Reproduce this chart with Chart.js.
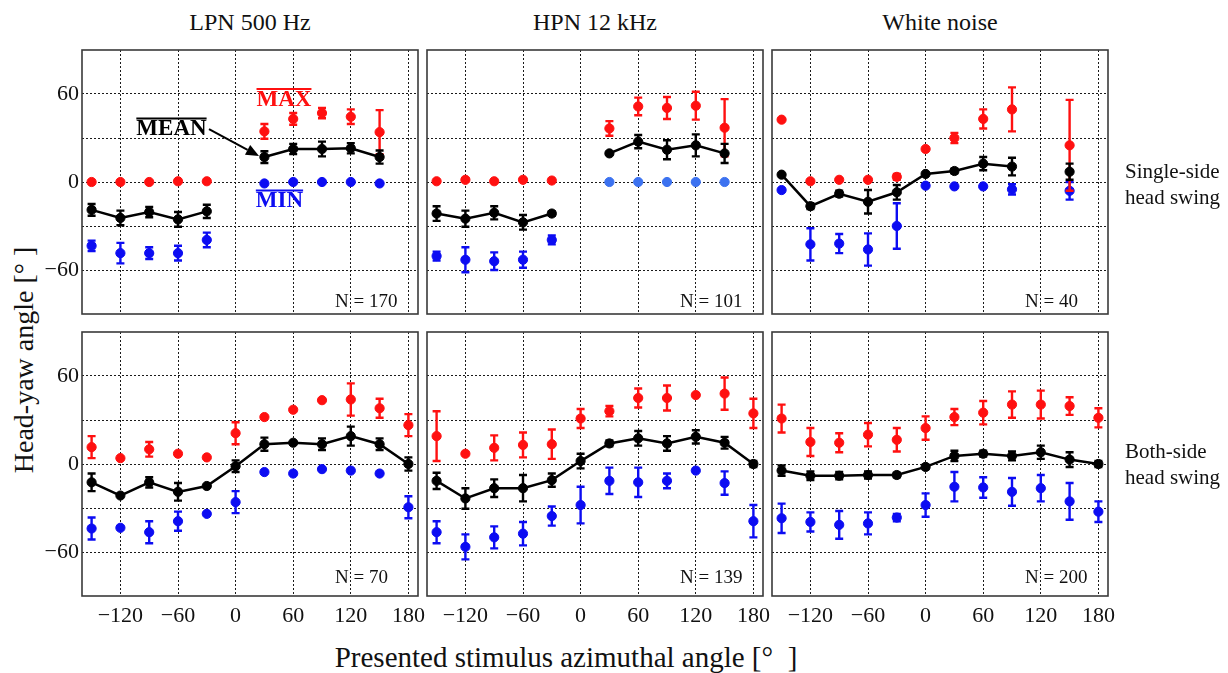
<!DOCTYPE html>
<html>
<head>
<meta charset="utf-8">
<script src="https://cdn.jsdelivr.net/npm/chart.js@4.4.1/dist/chart.umd.min.js"></script>
<style>
  html, body { margin: 0; padding: 0; background: #fff; }
  #fig { position: relative; width: 1228px; height: 673px; overflow: hidden;
         font-family: "Liberation Serif", "Times New Roman", serif; color: #111; }
  #fig canvas { position: absolute; }
  .col-title { position: absolute; top: 10px; width: 336px; text-align: center;
               font-size: 24px; line-height: 24px; white-space: nowrap; }
  .row-title { position: absolute; left: 1125px; font-size: 21px; line-height: 26px; white-space: nowrap; }
  #x-title { position: absolute; left: 266px; width: 600px; top: 642px; text-align: center;
             font-size: 29px; line-height: 30px; white-space: nowrap; }
  #y-title { position: absolute; left: -126px; top: 345px; width: 300px; height: 30px;
             text-align: center; font-size: 28px; line-height: 30px; white-space: nowrap;
             transform: rotate(-90deg); transform-origin: 150px 15px; }
</style>
</head>
<body>
<div id="fig">
  <div id="y-title">Head-yaw angle [°&nbsp;]</div>
  <div id="x-title">Presented stimulus azimuthal angle [°&nbsp;&nbsp;]</div>
</div>
<script>
// ---- axes & labels ----
const ANGLES = [-150, -120, -90, -60, -30, 0, 30, 60, 90, 120, 150, 180];
const X_TICKS = [-120, -60, 0, 60, 120, 180];
const Y_GRID = [-60, -30, 0, 30, 60];
const Y_LABELED = [-60, 0, 60];
const COLUMN_TITLES = ['LPN 500 Hz', 'HPN 12 kHz', 'White noise'];
const ROW_TITLES = [['Single-side', 'head swing'], ['Both-side', 'head swing']];
const SAMPLE_SIZES = [170, 101, 40, 70, 139, 200];

// ---- single-side head swing ----
const lpnSingleMax     = [0, 0, 0, 0.5, 0.5, null, 34.5, 43, 47, 44.5, 34, null];
const lpnSingleMaxErr  = [0, 0, 0, 0, 0, null, 5, 4, 3.5, 5, 15, null];
const lpnSingleMean    = [-19, -24.5, -20.5, -25.5, -20, null, 17, 22.5, 22.5, 23, 17, null];
const lpnSingleMeanErr = [4, 5, 3.5, 5, 4.5, null, 4, 3.5, 5, 3.5, 4.5, null];
const lpnSingleMin     = [-43.5, -48.5, -48.5, -48.5, -39.5, null, -1, 0, 0, 0, -1, null];
const lpnSingleMinErr  = [3.5, 7, 4, 5, 5, null, 0, 0, 0, 0, 0, null];

const hpnSingleMax     = [0.5, 1.5, 0.5, 1.5, 1, null, 36.5, 51.5, 50.5, 52, 37, null];
const hpnSingleMaxErr  = [0, 1, 0, 1, 0, null, 5, 6, 7.5, 9.5, 19.5, null];
const hpnSingleMean    = [-21.5, -25, -21, -27.5, -21.5, null, 19.5, 27.5, 22, 25, 19.5, null];
const hpnSingleMeanErr = [5, 5.5, 4.5, 5, 1.5, null, 1, 4.5, 6.5, 7.5, 6.5, null];
const hpnSingleMin     = [-50.5, -53, -54, -53, -39.5, null, 0, 0, 0, 0, 0, null];
const hpnSingleMinErr  = [3, 8.5, 6, 5.5, 3, null, 0, 0, 0, 0, 0, null];

const wnSingleMax      = [42.5, 0.5, 1.5, 1.5, 3.5, 22.5, 30, 43, 49.5, null, 25, null];
const wnSingleMaxErr   = [0, 0, 0, 0, 2, 0, 3.5, 6.5, 15, null, 31, null];
const wnSingleMean     = [5, -16.5, -8, -13.5, -7, 5.5, 7.5, 12.5, 10.5, null, 7, null];
const wnSingleMeanErr  = [0, 2, 2, 8, 5, 0, 1.5, 4.5, 6, null, 5.5, null];
const wnSingleMin      = [-5.5, -42.5, -42, -46, -30, -2.5, -3, -3, -5, null, -6, null];
const wnSingleMinErr   = [0, 11, 6.5, 11, 15.5, 0, 0, 0, 3.5, null, 6, null];

// ---- both-side head swing ----
const lpnBothMax       = [11.5, 4, 10, 7, 4.5, 21, 32, 37, 43.5, 44, 38, 26.5];
const lpnBothMaxErr    = [7.5, 0, 5, 0, 0, 7.5, 0, 0, 0, 11, 6.5, 7.5];
const lpnBothMean      = [-12.5, -21.5, -12.5, -19, -15, -1.5, 13.5, 14.5, 13.5, 19, 13.5, 0];
const lpnBothMeanErr   = [6, 0, 3.5, 6, 0, 4, 4.5, 0, 4, 6.5, 4, 4.5];
const lpnBothMin       = [-44, -43.5, -46.5, -39, -34, -26, -5.5, -6.5, -3.5, -4.5, -6.5, -29.5];
const lpnBothMinErr    = [7.5, 0, 7.5, 6.5, 0, 7.5, 0, 0, 0, 0, 0, 7.5];

const hpnBothMax       = [19, 7, 11, 13, 13.5, 31, 36, 45, 45, 47, 48, 34.5];
const hpnBothMaxErr    = [17, 0, 8.5, 8.5, 10, 6.5, 3.5, 6.5, 8.5, 0, 11, 10];
const hpnBothMean      = [-11.5, -23.5, -16.5, -16.5, -11, 2, 14, 17.5, 14, 18.5, 14.5, 0];
const hpnBothMeanErr   = [5.5, 7, 6, 9, 4.5, 5, 2, 5, 5, 4.5, 4, 2];
const hpnBothMin       = [-46.5, -56.5, -50, -47.5, -35.5, -28, -11.5, -12.5, -11.5, -4.5, -13, -39];
const hpnBothMinErr    = [7.5, 8.5, 7.5, 8, 6.5, 12.5, 9, 10, 5, 0, 8, 11];

const wnBothMax        = [31, 15, 14.5, 20, 16.5, 24.5, 32, 35, 40.5, 40.5, 39.5, 31.5];
const wnBothMaxErr     = [9.5, 9.5, 6.5, 8, 8, 8, 5.5, 8, 9, 9.5, 6, 6.5];
const wnBothMean       = [-4.5, -8, -8, -7.5, -7.5, -2, 5.5, 7, 5.5, 8, 3, 0];
const wnBothMeanErr    = [3.5, 3, 2.5, 2.5, 1.5, 1.5, 3.5, 2, 3, 4.5, 5, 2];
const wnBothMin        = [-37, -39.5, -41.5, -40.5, -36.5, -28, -15.5, -16, -19, -16.5, -25.5, -32.5];
const wnBothMinErr     = [10, 6.5, 9.5, 7.5, 2.5, 8, 10, 7, 9.5, 9, 12.5, 7];

const PANELS = [
  { max: lpnSingleMax, maxErr: lpnSingleMaxErr, mean: lpnSingleMean, meanErr: lpnSingleMeanErr, min: lpnSingleMin, minErr: lpnSingleMinErr },
  { max: hpnSingleMax, maxErr: hpnSingleMaxErr, mean: hpnSingleMean, meanErr: hpnSingleMeanErr, min: hpnSingleMin, minErr: hpnSingleMinErr, paleMinRight: true },
  { max: wnSingleMax,  maxErr: wnSingleMaxErr,  mean: wnSingleMean,  meanErr: wnSingleMeanErr,  min: wnSingleMin,  minErr: wnSingleMinErr },
  { max: lpnBothMax,   maxErr: lpnBothMaxErr,   mean: lpnBothMean,   meanErr: lpnBothMeanErr,   min: lpnBothMin,   minErr: lpnBothMinErr },
  { max: hpnBothMax,   maxErr: hpnBothMaxErr,   mean: hpnBothMean,   meanErr: hpnBothMeanErr,   min: hpnBothMin,   minErr: hpnBothMinErr },
  { max: wnBothMax,    maxErr: wnBothMaxErr,    mean: wnBothMean,    meanErr: wnBothMeanErr,    min: wnBothMin,    minErr: wnBothMinErr }
];

// ---- styling & layout ----
const SERIF = '"Liberation Serif", "Times New Roman", serif';
const RED = '#ff1010', BLUE = '#0c0cf2', PALE_BLUE = '#3c72f0', BLACK = '#000000';
const AREA_LEFT = [82, 427, 772];
const AREA_TOP = [50, 332];
const AREA_W = 336, AREA_H = 264;
const PAD_L = 62, PAD_T = 10, PAD_R = 30, PAD_B = 46;

const fig = document.getElementById('fig');
const fmt = v => (v < 0 ? '\u2212' + Math.abs(v) : String(v));
const toPoints = arr => ANGLES.map((a, i) => ({ x: a, y: arr[i] }));

// vertical error bars with caps, drawn under each dataset's markers
const errorBarPlugin = {
  id: 'errorBars',
  beforeDatasetDraw(chart, args) {
    const ds = chart.data.datasets[args.index];
    if (!ds.errorBars) return;
    const { ctx } = chart;
    const xs = chart.scales.x, ys = chart.scales.y;
    ctx.save();
    ctx.strokeStyle = ds.errorColor;
    ctx.lineWidth = 2.4;
    ds.data.forEach((pt, i) => {
      const e = ds.errorBars[i];
      if (pt.y == null || !e) return;
      const px = xs.getPixelForValue(pt.x);
      const top = ys.getPixelForValue(pt.y + e);
      const bot = ys.getPixelForValue(pt.y - e);
      ctx.beginPath();
      ctx.moveTo(px, top); ctx.lineTo(px, bot);
      ctx.moveTo(px - 4, top); ctx.lineTo(px + 4, top);
      ctx.moveTo(px - 4, bot); ctx.lineTo(px + 4, bot);
      ctx.stroke();
    });
    ctx.restore();
  }
};

// panel frame and sample-size note
const framePlugin = {
  id: 'frame',
  afterDraw(chart, args, opts) {
    const { ctx, chartArea: a } = chart;
    ctx.save();
    ctx.strokeStyle = '#3a3a3a';
    ctx.lineWidth = 1.6;
    ctx.strokeRect(a.left, a.top, a.right - a.left, a.bottom - a.top);
    ctx.fillStyle = '#111';
    ctx.font = '19px ' + SERIF;
    ctx.textBaseline = 'alphabetic';
    ctx.textAlign = 'left';
    ctx.fillText('N = ' + opts.n, a.left + 253, a.bottom - opts.nLift);
    ctx.restore();
  }
};

// MAX / MEAN / MIN callouts with overlines and an arrow to the mean curve
const calloutPlugin = {
  id: 'callouts',
  afterDatasetsDraw(chart, args, opts) {
    const { ctx } = chart;
    const xs = chart.scales.x, ys = chart.scales.y;
    ctx.save();
    ctx.font = 'bold 23px ' + SERIF;
    ctx.textAlign = 'center';
    ctx.textBaseline = 'middle';
    opts.items.forEach(it => {
      const cx = xs.getPixelForValue(it.x), cy = ys.getPixelForValue(it.y);
      ctx.fillStyle = it.color;
      ctx.fillText(it.text, cx, cy + 1);
      const w = ctx.measureText(it.text).width;
      ctx.strokeStyle = it.color;
      ctx.lineWidth = 2;
      ctx.beginPath();
      ctx.moveTo(cx - w / 2, cy - 10);
      ctx.lineTo(cx + w / 2, cy - 10);
      ctx.stroke();
    });
    const a = opts.arrow;
    const x0 = xs.getPixelForValue(a.from[0]), y0 = ys.getPixelForValue(a.from[1]);
    const x1 = xs.getPixelForValue(a.to[0]), y1 = ys.getPixelForValue(a.to[1]);
    const ang = Math.atan2(y1 - y0, x1 - x0);
    const head = 13, half = 5.5;
    ctx.strokeStyle = BLACK; ctx.fillStyle = BLACK; ctx.lineWidth = 2;
    ctx.beginPath();
    ctx.moveTo(x0, y0);
    ctx.lineTo(x1 - head * Math.cos(ang), y1 - head * Math.sin(ang));
    ctx.stroke();
    ctx.beginPath();
    ctx.moveTo(x1, y1);
    ctx.lineTo(x1 - head * Math.cos(ang) + half * Math.sin(ang), y1 - head * Math.sin(ang) - half * Math.cos(ang));
    ctx.lineTo(x1 - head * Math.cos(ang) - half * Math.sin(ang), y1 - head * Math.sin(ang) + half * Math.cos(ang));
    ctx.closePath();
    ctx.fill();
    ctx.restore();
  }
};

function markerSet(label, values, errs, color, extra) {
  return Object.assign({
    label,
    data: toPoints(values),
    errorBars: errs,
    errorColor: color,
    showLine: false,
    pointRadius: 4.6,
    pointHoverRadius: 4.6,
    pointBorderWidth: 1,
    pointBackgroundColor: color,
    pointBorderColor: color,
    borderColor: color,
    backgroundColor: color
  }, extra || {});
}

function makePanel(p, idx) {
  const row = Math.floor(idx / 3), col = idx % 3;
  const canvas = document.createElement('canvas');
  canvas.width = AREA_W + PAD_L + PAD_R;
  canvas.height = AREA_H + PAD_T + PAD_B;
  canvas.style.left = (AREA_LEFT[col] - PAD_L) + 'px';
  canvas.style.top = (AREA_TOP[row] - PAD_T) + 'px';
  fig.appendChild(canvas);

  const minColor = p.paleMinRight
    ? (c => (c.raw && c.raw.x > 0 ? PALE_BLUE : BLUE))
    : BLUE;

  const datasets = [
    markerSet('MEAN', p.mean, p.meanErr, BLACK, { showLine: true, borderWidth: 2.5, spanGaps: false, tension: 0 }),
    markerSet('MAX', p.max, p.maxErr, RED),
    markerSet('MIN', p.min, p.minErr, BLUE, { pointBackgroundColor: minColor, pointBorderColor: minColor })
  ];

  const plugins = [errorBarPlugin, framePlugin];
  if (idx === 0) plugins.push(calloutPlugin);

  new Chart(canvas, {
    type: 'line',
    data: { datasets },
    plugins,
    options: {
      responsive: false,
      maintainAspectRatio: false,
      animation: false,
      devicePixelRatio: 1,
      events: [],
      layout: { padding: { left: 0, top: PAD_T, right: PAD_R, bottom: 0 } },
      plugins: {
        legend: { display: false },
        tooltip: { enabled: false },
        frame: { n: SAMPLE_SIZES[idx], nLift: row === 0 ? 7 : 13 },
        callouts: {
          items: [
            { text: 'MAX', color: RED, x: 50.4, y: 56.6 },
            { text: 'MEAN', color: BLACK, x: -66.8, y: 36.5 },
            { text: 'MIN', color: BLUE, x: 45.7, y: -12.6 }
          ],
          arrow: { from: [-27.7, 36.1], to: [24.4, 17.7] }
        }
      },
      scales: {
        x: {
          type: 'linear', min: -160, max: 190,
          afterBuildTicks: s => { s.ticks = X_TICKS.map(v => ({ value: v })); },
          afterFit: s => { s.height = PAD_B; s.paddingLeft = 0; s.paddingRight = 0; },
          grid: { color: '#1a1a1a', lineWidth: 1, drawTicks: false },
          border: { display: false, dash: [2, 2] },
          ticks: {
            display: row === 1, padding: 7, color: '#111', maxRotation: 0, autoSkip: false,
            font: { family: SERIF, size: 22 },
            callback: v => fmt(v)
          }
        },
        y: {
          type: 'linear', min: -90, max: 90,
          afterBuildTicks: s => { s.ticks = Y_GRID.map(v => ({ value: v })); },
          afterFit: s => { s.width = PAD_L; s.paddingTop = 0; s.paddingBottom = 0; },
          grid: { color: '#1a1a1a', lineWidth: 1, drawTicks: false },
          border: { display: false, dash: [2, 2] },
          ticks: {
            display: col === 0, padding: 3, color: '#111', autoSkip: false,
            font: { family: SERIF, size: 22 },
            callback: v => (Y_LABELED.includes(v) ? fmt(v) : '')
          }
        }
      }
    }
  });
}

PANELS.forEach(makePanel);

// column and row headings
COLUMN_TITLES.forEach((t, c) => {
  const d = document.createElement('div');
  d.className = 'col-title';
  d.style.left = AREA_LEFT[c] + 'px';
  d.textContent = t;
  fig.appendChild(d);
});
ROW_TITLES.forEach((lines, r) => {
  const d = document.createElement('div');
  d.className = 'row-title';
  d.style.top = (r === 0 ? 158 : 438) + 'px';
  d.innerHTML = lines.join('<br>');
  fig.appendChild(d);
});
</script>
</body>
</html>
